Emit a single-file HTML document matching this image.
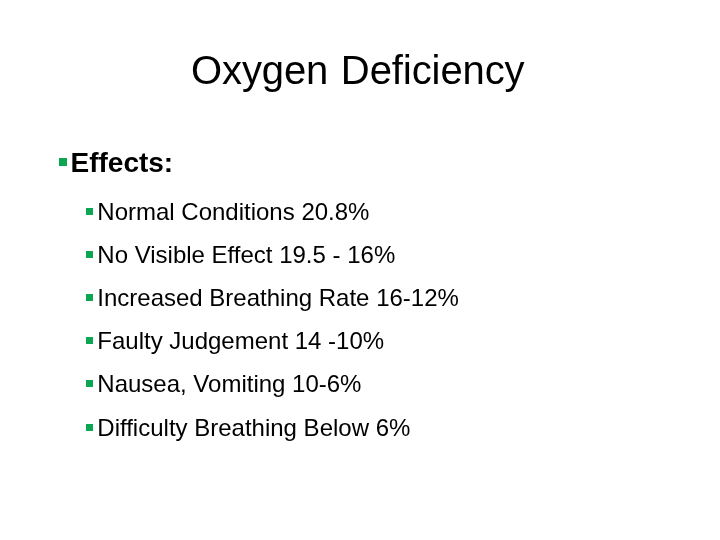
<!DOCTYPE html>
<html><head><meta charset="utf-8">
<style>
html,body{margin:0;padding:0;background:#fff;}
body{width:720px;height:540px;position:relative;overflow:hidden;font-family:"Liberation Sans",sans-serif;color:#000;}
.t{position:absolute;white-space:nowrap;line-height:1;}
.b{position:absolute;background:#0ba651;}
#title{left:191px;top:50px;font-size:40px;letter-spacing:-0.1px;word-spacing:1.6px;}
#h{left:70.5px;top:149px;font-size:28px;font-weight:bold;}
.s{font-size:24px;left:97.3px;}
</style></head><body>
<div class="t" id="title">Oxygen Deﬁciency</div>
<div class="b" style="left:59px;top:158px;width:8px;height:8px"></div>
<div class="t" id="h">Effects:</div>
<div class="b" style="left:86px;top:208px;width:7px;height:7px"></div>
<div class="t s" style="top:200px">Normal Conditions 20.8%</div>
<div class="b" style="left:86px;top:251px;width:7px;height:7px"></div>
<div class="t s" style="top:243px">No Visible Effect 19.5 - 16%</div>
<div class="b" style="left:86px;top:294px;width:7px;height:7px"></div>
<div class="t s" style="top:286px">Increased Breathing Rate 16-12%</div>
<div class="b" style="left:86px;top:337px;width:7px;height:7px"></div>
<div class="t s" style="top:329px">Faulty Judgement 14 -10%</div>
<div class="b" style="left:86px;top:380px;width:7px;height:7px"></div>
<div class="t s" style="top:372px">Nausea, Vomiting 10-6%</div>
<div class="b" style="left:86px;top:424px;width:7px;height:7px"></div>
<div class="t s" style="top:416px">Difficulty Breathing Below 6%</div>
</body></html>
